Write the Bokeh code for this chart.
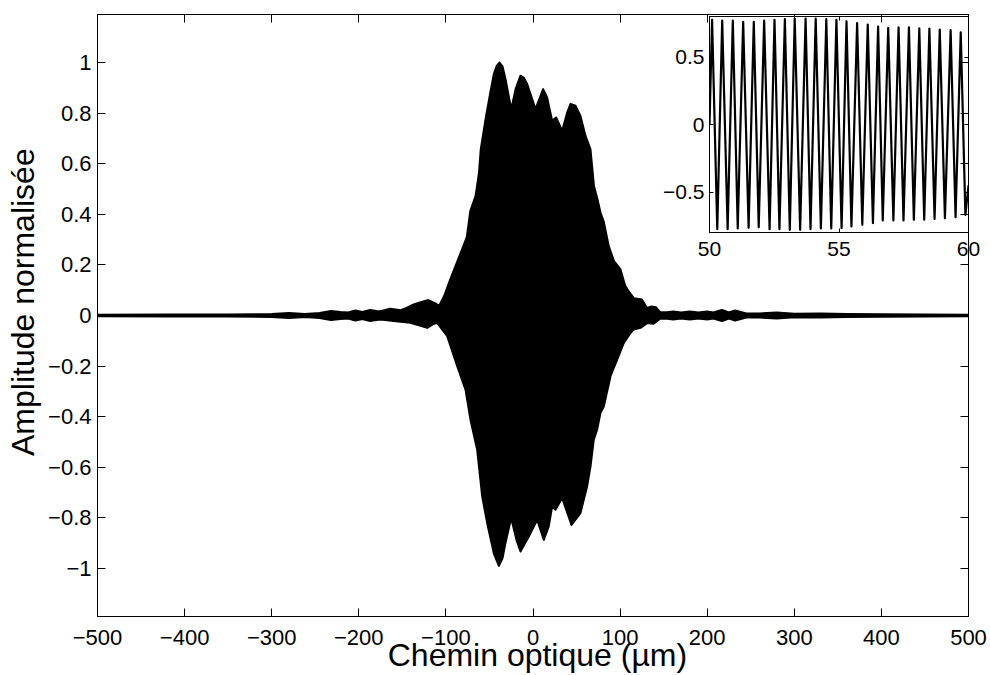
from bokeh.plotting import figure
from bokeh.models import FixedTicker, LinearAxis, Range1d
from bokeh.layouts import column
from bokeh.embed import file_html
from bokeh.resources import INLINE

FONT = "Liberation Sans"

# ---------------- data ----------------
# upper envelope of the interferogram (optical path in um, normalised amplitude)
upper_x = [-500, -420, -350, -300, -280, -262, -245, -232, -221, -212,
           -204, -196, -187, -180, -175, -164, -152, -145, -137, -129,
           -120, -112, -108, -102, -95, -83, -76, -72, -66, -62,
           -60, -54.5, -49, -45, -41.5, -38.5, -35, -31.6, -25, -20,
           -14.4, -10.5, -6.7, 2.9, 11.6, 16.2, 22, 26.6, 33.5, 39,
           43, 48.8, 54.5, 60.3, 66, 70, 74, 77.5, 81.3, 87,
           93, 100.5, 106, 111, 116, 125, 131, 136, 141, 146,
           154, 161, 170, 180, 190, 200, 207, 217, 225, 232,
           245, 260, 280, 300, 330, 360, 400, 450, 500]
upper_y = [0.003, 0.004, 0.004, 0.006, 0.010, 0.006, 0.010, 0.018, 0.014, 0.012,
           0.020, 0.014, 0.022, 0.018, 0.017, 0.027, 0.021, 0.030, 0.044, 0.053,
           0.061, 0.048, 0.037, 0.077, 0.143, 0.248, 0.31, 0.413, 0.472, 0.565,
           0.657, 0.776, 0.882, 0.954, 0.988, 1.0, 0.985, 0.935, 0.816, 0.895,
           0.948, 0.94, 0.915, 0.816, 0.895, 0.862, 0.770, 0.783, 0.730, 0.80,
           0.836, 0.829, 0.789, 0.710, 0.657, 0.512, 0.46, 0.407, 0.37, 0.274,
           0.215, 0.182, 0.116, 0.09, 0.068, 0.063, 0.030, 0.036, 0.033, 0.013,
           0.013, 0.016, 0.012, 0.016, 0.012, 0.016, 0.012, 0.022, 0.012, 0.020,
           0.008, 0.008, 0.012, 0.007, 0.008, 0.006, 0.005, 0.004, 0.003]

# lower envelope
lower_x = [-500, -420, -350, -300, -280, -262, -245, -232, -221, -212,
           -204, -196, -187, -180, -175, -160, -141, -130, -121.5, -115,
           -110, -98.5, -87, -77.5, -71.8, -64.1, -58.3, -52.6, -45, -39.2,
           -35, -31.6, -25.1, -19, -14.4, -4.8, 4.8, 12.4, 18.1, 22,
           25.8, 33.5, 44.2, 54.5, 62.1, 66, 69.8, 73.7, 77.5, 81.3,
           89, 96.6, 104.3, 112, 115.7, 123.4, 131, 138, 146, 154,
           161, 170, 180, 190, 200, 207, 217, 225, 232, 245,
           260, 280, 300, 330, 360, 400, 450, 500]
lower_y = [-0.003, -0.004, -0.004, -0.006, -0.010, -0.006, -0.010, -0.018, -0.014, -0.012,
           -0.020, -0.014, -0.022, -0.018, -0.016, -0.022, -0.029, -0.04, -0.049, -0.035,
           -0.029, -0.082, -0.2, -0.293, -0.412, -0.531, -0.716, -0.821, -0.940, -0.99,
           -0.96, -0.9, -0.801, -0.887, -0.933, -0.874, -0.808, -0.887, -0.834, -0.755,
           -0.768, -0.722, -0.828, -0.781, -0.676, -0.597, -0.491, -0.45, -0.385, -0.36,
           -0.24, -0.174, -0.108, -0.069, -0.055, -0.049, -0.03, -0.033, -0.013, -0.013,
           -0.016, -0.012, -0.016, -0.012, -0.016, -0.012, -0.022, -0.012, -0.020, -0.008,
           -0.008, -0.012, -0.007, -0.008, -0.006, -0.005, -0.004, -0.003]

# inset: fringes between 50 and 60 um (successive extrema)
inset_x = [50.00, 50.10, 50.30, 50.49, 50.70, 50.90, 51.09, 51.30, 51.51, 51.71,
           51.90, 52.11, 52.32, 52.51, 52.70, 52.91, 53.10, 53.29, 53.50, 53.71,
           53.90, 54.10, 54.30, 54.51, 54.70, 54.90, 55.10, 55.29, 55.48, 55.70,
           55.90, 56.11, 56.31, 56.51, 56.69, 56.90, 57.10, 57.30, 57.49, 57.70,
           57.89, 58.10, 58.29, 58.49, 58.69, 58.89, 59.09, 59.31, 59.50, 59.70,
           59.88, 60.00]
inset_y = [0.0, 0.775, -0.775, 0.77, -0.775, 0.77, -0.77, 0.76, -0.765, 0.76,
           -0.76, 0.77, -0.775, 0.775, -0.775, 0.78, -0.78, 0.785, -0.78, 0.785,
           -0.775, 0.785, -0.77, 0.78, -0.77, 0.775, -0.767, 0.765, -0.755, 0.752,
           -0.743, 0.74, -0.73, 0.725, -0.711, 0.715, -0.71, 0.72, -0.71, 0.72,
           -0.706, 0.712, -0.705, 0.71, -0.70, 0.703, -0.695, 0.70, -0.686, 0.683,
           -0.669, -0.45]

x_ticks = [-500, -400, -300, -200, -100, 0, 100, 200, 300, 400, 500]
x_tick_labels = ["\u2212500", "\u2212400", "\u2212300", "\u2212200", "\u2212100", "0",
                 "100", "200", "300", "400", "500"]
y_ticks = [-1, -0.8, -0.6, -0.4, -0.2, 0, 0.2, 0.4, 0.6, 0.8, 1]
y_tick_labels = ["\u22121", "\u22120.8", "\u22120.6", "\u22120.4", "\u22120.2", "0",
                 "0.2", "0.4", "0.6", "0.8", "1"]
inset_x_ticks = [50, 55, 60]
inset_x_tick_labels = ["50", "55", "60"]
inset_y_ticks = [-0.5, 0, 0.5]
inset_y_tick_labels = ["\u22120.5", "0", "0.5"]

# leading no-break spaces nudge the centred titles as in the reference
x_title = "\u00a0Chemin optique (\u00b5m)"
y_title = "\u00a0\u00a0\u00a0Amplitude normalis\u00e9e"


def style_axis(ax, ticks, labels, size, tick_len, standoff, show=True):
    ax.ticker = FixedTicker(ticks=ticks)
    ax.major_label_overrides = dict(zip(ticks, labels))
    ax.minor_tick_line_color = None
    ax.major_tick_in = tick_len
    ax.major_tick_out = 0
    ax.axis_line_color = "black"
    ax.axis_line_width = 1
    ax.major_tick_line_color = "black"
    ax.major_tick_line_width = 1
    ax.major_label_text_font = FONT
    ax.major_label_text_color = "black"
    ax.major_label_text_font_size = size
    ax.major_label_standoff = standoff
    if not show:
        ax.major_label_text_font_size = "0px"
        ax.major_label_text_color = None
        ax.major_label_standoff = 0


def style_title(ax, text, standoff):
    ax.axis_label = text
    ax.axis_label_text_font = FONT
    ax.axis_label_text_font_size = "32px"
    ax.axis_label_text_font_style = "normal"
    ax.axis_label_text_color = "black"
    ax.axis_label_standoff = standoff


# ---------------- main plot ----------------
p = figure(width=990, height=675, output_backend="svg", toolbar_location=None,
           x_range=Range1d(-500, 500), y_range=Range1d(-1.19, 1.19),
           min_border_left=97, min_border_right=22, min_border_top=14, min_border_bottom=59,
           background_fill_color="white", border_fill_color="white")
p.xgrid.visible = False
p.ygrid.visible = False
p.outline_line_color = "black"
p.outline_line_width = 1

poly_x = upper_x + lower_x[::-1]
poly_y = upper_y + lower_y[::-1]
p.patch(poly_x, poly_y, fill_color="black", line_color="black", line_width=2, line_join="round")

p.add_layout(LinearAxis(), "above")
p.add_layout(LinearAxis(), "right")
style_axis(p.below[0], x_ticks, x_tick_labels, "22px", 8, 13)
style_axis(p.above[0], x_ticks, x_tick_labels, "22px", 8, 0, show=False)
style_axis(p.left[0], y_ticks, y_tick_labels, "22px", 8, 6)
style_axis(p.right[0], y_ticks, y_tick_labels, "22px", 8, 0, show=False)
style_title(p.below[0], x_title, -11)
style_title(p.left[0], y_title, 4)

# ---------------- inset ----------------
# note: borders equal to the main plot's, because the column aligns plot frames
q = figure(width=378, height=252, output_backend="svg", toolbar_location=None,
           x_range=Range1d(50, 60), y_range=Range1d(-0.8, 0.8),
           min_border_left=97, min_border_right=22, min_border_top=2, min_border_bottom=34,
           background_fill_alpha=0, border_fill_alpha=0,
           styles={"position": "absolute", "left": "612px", "top": "14px"})
q.xgrid.visible = False
q.ygrid.visible = False
q.outline_line_color = "black"
q.outline_line_width = 1
q.line(inset_x, inset_y, line_color="black", line_width=2.2, line_join="round")
q.add_layout(LinearAxis(), "above")
q.add_layout(LinearAxis(), "right")
style_axis(q.below[0], inset_x_ticks, inset_x_tick_labels, "21px", 4, 9)
style_axis(q.above[0], inset_x_ticks, inset_x_tick_labels, "21px", 4, 0, show=False)
style_axis(q.left[0], inset_y_ticks, inset_y_tick_labels, "21px", 4, 5)
style_axis(q.right[0], inset_y_ticks, inset_y_tick_labels, "21px", 4, 0, show=False)

root = column(p, q, styles={"position": "relative"})
open("out.html", "w").write(file_html(root, INLINE))
